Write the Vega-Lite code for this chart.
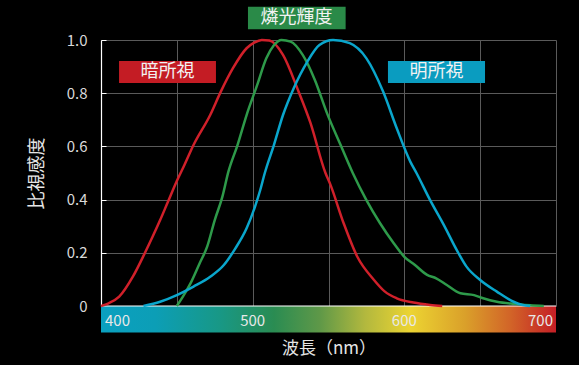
{
  "$schema": "https://vega.github.io/schema/vega-lite/v6.json",
  "width": 455,
  "height": 266,
  "autosize": {"type": "none"},
  "padding": {"left": 101, "top": 40, "right": 23, "bottom": 59},
  "background": "#000000",
  "config": {"view": {"stroke": null}, "font": "Noto Sans CJK JP"},
  "datasets": {
    "curves": [
      {"series": "暗所視", "w": 400, "v": 0},
      {"series": "暗所視", "w": 405, "v": 0.01},
      {"series": "暗所視", "w": 412, "v": 0.035},
      {"series": "暗所視", "w": 421, "v": 0.11},
      {"series": "暗所視", "w": 429, "v": 0.2},
      {"series": "暗所視", "w": 434, "v": 0.26},
      {"series": "暗所視", "w": 439, "v": 0.323},
      {"series": "暗所視", "w": 444, "v": 0.39},
      {"series": "暗所視", "w": 450, "v": 0.47},
      {"series": "暗所視", "w": 455, "v": 0.53},
      {"series": "暗所視", "w": 461, "v": 0.605},
      {"series": "暗所視", "w": 472, "v": 0.718},
      {"series": "暗所視", "w": 479, "v": 0.806},
      {"series": "暗所視", "w": 487, "v": 0.894},
      {"series": "暗所視", "w": 496, "v": 0.969},
      {"series": "暗所視", "w": 501, "v": 0.99},
      {"series": "暗所視", "w": 506, "v": 1.0},
      {"series": "暗所視", "w": 511, "v": 0.998},
      {"series": "暗所視", "w": 520, "v": 0.944},
      {"series": "暗所視", "w": 530, "v": 0.81},
      {"series": "暗所視", "w": 538, "v": 0.69},
      {"series": "暗所視", "w": 548, "v": 0.5},
      {"series": "暗所視", "w": 551, "v": 0.46},
      {"series": "暗所視", "w": 560, "v": 0.311},
      {"series": "暗所視", "w": 569, "v": 0.185},
      {"series": "暗所視", "w": 580, "v": 0.098},
      {"series": "暗所視", "w": 587, "v": 0.055},
      {"series": "暗所視", "w": 595, "v": 0.029},
      {"series": "暗所視", "w": 606, "v": 0.013},
      {"series": "暗所視", "w": 617, "v": 0.004},
      {"series": "暗所視", "w": 625, "v": 0},
      {"series": "燐光輝度", "w": 450, "v": 0},
      {"series": "燐光輝度", "w": 454, "v": 0.035},
      {"series": "燐光輝度", "w": 459, "v": 0.085},
      {"series": "燐光輝度", "w": 465, "v": 0.16},
      {"series": "燐光輝度", "w": 470, "v": 0.223},
      {"series": "燐光輝度", "w": 475, "v": 0.323},
      {"series": "燐光輝度", "w": 480, "v": 0.41},
      {"series": "燐光輝度", "w": 484, "v": 0.505},
      {"series": "燐光輝度", "w": 490, "v": 0.605},
      {"series": "燐光輝度", "w": 496, "v": 0.718},
      {"series": "燐光輝度", "w": 503, "v": 0.831},
      {"series": "燐光輝度", "w": 509, "v": 0.931},
      {"series": "燐光輝度", "w": 514, "v": 0.98},
      {"series": "燐光輝度", "w": 519, "v": 1.0},
      {"series": "燐光輝度", "w": 525, "v": 0.994},
      {"series": "燐光輝度", "w": 533, "v": 0.944},
      {"series": "燐光輝度", "w": 541, "v": 0.85},
      {"series": "燐光輝度", "w": 549, "v": 0.725},
      {"series": "燐光輝度", "w": 558, "v": 0.605},
      {"series": "燐光輝度", "w": 566, "v": 0.5},
      {"series": "燐光輝度", "w": 575, "v": 0.398},
      {"series": "燐光輝度", "w": 584, "v": 0.311},
      {"series": "燐光輝度", "w": 593, "v": 0.236},
      {"series": "燐光輝度", "w": 600, "v": 0.185},
      {"series": "燐光輝度", "w": 607, "v": 0.154},
      {"series": "燐光輝度", "w": 615, "v": 0.117},
      {"series": "燐光輝度", "w": 621, "v": 0.104},
      {"series": "燐光輝度", "w": 628, "v": 0.079},
      {"series": "燐光輝度", "w": 637, "v": 0.048},
      {"series": "燐光輝度", "w": 646, "v": 0.041},
      {"series": "燐光輝度", "w": 652, "v": 0.029},
      {"series": "燐光輝度", "w": 661, "v": 0.016},
      {"series": "燐光輝度", "w": 672, "v": 0.008},
      {"series": "燐光輝度", "w": 683, "v": 0.003},
      {"series": "燐光輝度", "w": 692, "v": 0},
      {"series": "明所視", "w": 428, "v": 0},
      {"series": "明所視", "w": 439, "v": 0.016},
      {"series": "明所視", "w": 450, "v": 0.041},
      {"series": "明所視", "w": 461, "v": 0.073},
      {"series": "明所視", "w": 472, "v": 0.11},
      {"series": "明所視", "w": 481, "v": 0.154},
      {"series": "明所視", "w": 488, "v": 0.211},
      {"series": "明所視", "w": 496, "v": 0.292},
      {"series": "明所視", "w": 501.5, "v": 0.373},
      {"series": "明所視", "w": 505, "v": 0.436},
      {"series": "明所視", "w": 508, "v": 0.5},
      {"series": "明所視", "w": 514, "v": 0.605},
      {"series": "明所視", "w": 520, "v": 0.718},
      {"series": "明所視", "w": 527, "v": 0.818},
      {"series": "明所視", "w": 536, "v": 0.918},
      {"series": "明所視", "w": 544, "v": 0.981},
      {"series": "明所視", "w": 553, "v": 1.0},
      {"series": "明所視", "w": 564, "v": 0.988},
      {"series": "明所視", "w": 575, "v": 0.931},
      {"series": "明所視", "w": 586, "v": 0.806},
      {"series": "明所視", "w": 595, "v": 0.668},
      {"series": "明所視", "w": 604, "v": 0.542},
      {"series": "明所視", "w": 608, "v": 0.5},
      {"series": "明所視", "w": 617, "v": 0.398},
      {"series": "明所視", "w": 626, "v": 0.305},
      {"series": "明所視", "w": 634.5, "v": 0.211},
      {"series": "明所視", "w": 641, "v": 0.148},
      {"series": "明所視", "w": 650, "v": 0.098},
      {"series": "明所視", "w": 661, "v": 0.054},
      {"series": "明所視", "w": 672, "v": 0.016},
      {"series": "明所視", "w": 678, "v": 0.004},
      {"series": "明所視", "w": 683, "v": 0}
    ],
    "barlabels": [
      {"w": 400, "label": "400"},
      {"w": 500, "label": "500"},
      {"w": 600, "label": "600"},
      {"w": 700, "label": "700"}
    ]
  },
  "layer": [
    {
      "data": {"values": [{}]},
      "mark": {
        "type": "rect",
        "stroke": null,
        "fill": {
          "gradient": "linear",
          "x1": 0, "y1": 0, "x2": 1, "y2": 0,
          "stops": [
            {"offset": 0, "color": "#0aa0c0"},
            {"offset": 0.12, "color": "#0c9eb6"},
            {"offset": 0.26, "color": "#189886"},
            {"offset": 0.38, "color": "#2a8c52"},
            {"offset": 0.48, "color": "#5e9848"},
            {"offset": 0.58, "color": "#b2b83e"},
            {"offset": 0.68, "color": "#ecd432"},
            {"offset": 0.8, "color": "#daa02a"},
            {"offset": 0.9, "color": "#d26428"},
            {"offset": 1, "color": "#c41e26"}
          ]
        }
      },
      "encoding": {
        "x": {"datum": 400, "type": "quantitative", "scale": {"domain": [400, 700], "nice": false, "zero": false}},
        "x2": {"datum": 700},
        "y": {"datum": -0.1, "type": "quantitative", "scale": {"domain": [0, 1], "nice": false}},
        "y2": {"datum": 0}
      }
    },
    {
      "data": {"values": [{}]},
      "mark": {"type": "rule", "color": "#ffffff", "strokeWidth": 1.2},
      "encoding": {
        "x": {"datum": 400, "type": "quantitative", "scale": {"domain": [400, 700], "nice": false, "zero": false}},
        "x2": {"datum": 700},
        "y": {"datum": 0, "type": "quantitative", "scale": {"domain": [0, 1], "nice": false}}
      }
    },
    {
      "data": {"name": "barlabels"},
      "mark": {
        "type": "text",
        "fontSize": 15,
        "color": "#e8e8e8",
        "baseline": "middle",
        "align": {"expr": "datum.w === 400 ? 'left' : datum.w === 700 ? 'right' : 'center'"},
        "dx": {"expr": "datum.w === 400 ? 4 : datum.w === 700 ? -3 : 0"}
      },
      "encoding": {
        "x": {"field": "w", "type": "quantitative", "scale": {"domain": [400, 700], "nice": false, "zero": false}},
        "y": {"datum": -0.057, "type": "quantitative", "scale": {"domain": [0, 1], "nice": false}},
        "text": {"field": "label"}
      }
    },
    {
      "data": {"values": [{}]},
      "mark": {"type": "rect", "color": "#c41c24"},
      "encoding": {
        "x": {"datum": 411.9, "type": "quantitative", "scale": {"domain": [400, 700], "nice": false, "zero": false}},
        "x2": {"datum": 475.8},
        "y": {"datum": 0.838, "type": "quantitative", "scale": {"domain": [0, 1], "nice": false}},
        "y2": {"datum": 0.921}
      }
    },
    {
      "data": {"values": [{}]},
      "mark": {"type": "text", "text": "暗所視", "fontSize": 18, "color": "#f2f2f2", "baseline": "middle", "align": "center"},
      "encoding": {
        "x": {"datum": 443.8, "type": "quantitative", "scale": {"domain": [400, 700], "nice": false, "zero": false}},
        "y": {"datum": 0.879, "type": "quantitative", "scale": {"domain": [0, 1], "nice": false}}
      }
    },
    {
      "data": {"values": [{}]},
      "mark": {"type": "rect", "color": "#0a9cc0"},
      "encoding": {
        "x": {"datum": 589.2, "type": "quantitative", "scale": {"domain": [400, 700], "nice": false, "zero": false}},
        "x2": {"datum": 653.2},
        "y": {"datum": 0.838, "type": "quantitative", "scale": {"domain": [0, 1], "nice": false}},
        "y2": {"datum": 0.921}
      }
    },
    {
      "data": {"values": [{}]},
      "mark": {"type": "text", "text": "明所視", "fontSize": 18, "color": "#f2f2f2", "baseline": "middle", "align": "center"},
      "encoding": {
        "x": {"datum": 621.2, "type": "quantitative", "scale": {"domain": [400, 700], "nice": false, "zero": false}},
        "y": {"datum": 0.879, "type": "quantitative", "scale": {"domain": [0, 1], "nice": false}}
      }
    },
    {
      "data": {"values": [{}]},
      "mark": {"type": "rect", "color": "#2a8a48"},
      "encoding": {
        "x": {"datum": 496.9, "type": "quantitative", "scale": {"domain": [400, 700], "nice": false, "zero": false}},
        "x2": {"datum": 561.3},
        "y": {"datum": 1.04, "type": "quantitative", "scale": {"domain": [0, 1], "nice": false}},
        "y2": {"datum": 1.125}
      }
    },
    {
      "data": {"values": [{}]},
      "mark": {"type": "text", "text": "燐光輝度", "fontSize": 18, "color": "#f2f2f2", "baseline": "middle", "align": "center"},
      "encoding": {
        "x": {"datum": 528.9, "type": "quantitative", "scale": {"domain": [400, 700], "nice": false, "zero": false}},
        "y": {"datum": 1.082, "type": "quantitative", "scale": {"domain": [0, 1], "nice": false}}
      }
    },
    {
      "data": {"name": "curves"},
      "mark": {"type": "line", "strokeWidth": 2.5, "interpolate": "monotone"},
      "encoding": {
        "x": {
          "field": "w",
          "type": "quantitative",
          "scale": {"domain": [400, 700], "nice": false, "zero": false},
          "axis": {
            "values": [400, 450, 500, 550, 600, 650, 700],
            "grid": true,
            "gridColor": "#5a5a5a",
            "gridWidth": 1,
            "labels": false,
            "ticks": false,
            "domain": false,
            "title": "波長（nm）",
            "titleColor": "#e6e6e6",
            "titleFontSize": 17,
            "titleFontWeight": "normal",
            "titlePadding": 34
          }
        },
        "y": {
          "field": "v",
          "type": "quantitative",
          "scale": {"domain": [0, 1], "nice": false},
          "axis": {
            "values": [0, 0.2, 0.4, 0.6, 0.8, 1.0],
            "labelExpr": "datum.value == 0 ? '0' : format(datum.value, '.1f')",
            "grid": true,
            "gridColor": "#5a5a5a",
            "gridWidth": 1,
            "domainColor": "#ffffff",
            "domainWidth": 1.2,
            "tickColor": "#ffffff",
            "tickSize": -5,
            "labelPadding": 19,
            "labelColor": "#d9d9d9",
            "labelFontSize": 15,
            "title": "比視感度",
            "titleColor": "#e6e6e6",
            "titleFontSize": 18,
            "titleFontWeight": "normal",
            "titlePadding": 20
          }
        },
        "color": {
          "field": "series",
          "type": "nominal",
          "scale": {"domain": ["暗所視", "燐光輝度", "明所視"], "range": ["#d0202a", "#2e9a4a", "#0aa6cc"]},
          "legend": null
        },
        "order": {"field": "w", "type": "quantitative"}
      }
    }
  ]
}
